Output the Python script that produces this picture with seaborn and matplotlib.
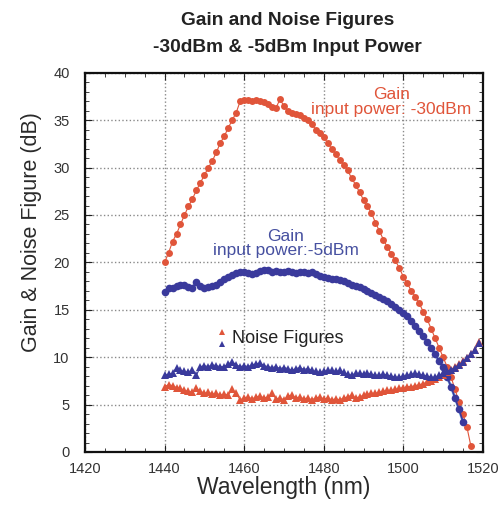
import numpy as np
import pandas as pd
import matplotlib
matplotlib.use("Agg")
import matplotlib.pyplot as plt
from matplotlib.ticker import MultipleLocator
import seaborn as sns

# values (1 nm steps)
wl_gain30 = list(range(1440, 1518))
gain_30dbm = [20.0, 21.0, 22.2, 23.0, 24.0, 25.0, 25.9, 26.7, 27.6, 28.4,
              29.2, 30.0, 30.7, 31.6, 32.6, 33.3, 34.2, 35.0, 35.8, 37.0,
              37.1, 37.1, 37.0, 37.1, 37.0, 36.9, 36.7, 36.4, 36.3, 37.2,
              36.5, 36.0, 35.8, 35.6, 35.5, 35.2, 35.0, 34.6, 34.0, 33.6,
              33.2, 32.6, 32.0, 31.4, 30.8, 30.3, 29.7, 28.9, 28.2, 27.4,
              26.6, 25.9, 25.2, 24.2, 23.3, 22.4, 21.6, 20.9, 20.2, 19.4,
              18.5, 17.8, 17.0, 16.4, 15.7, 14.8, 14.0, 13.0, 12.0, 11.0,
              10.0, 9.0, 7.9, 6.6, 5.3, 4.0, 2.6, 0.6]

wl_gain5 = list(range(1440, 1516))
gain_5dbm = [16.9, 17.3, 17.3, 17.5, 17.6, 17.6, 17.4, 17.3, 17.9, 17.5,
             17.3, 17.4, 17.5, 17.6, 17.9, 18.3, 18.5, 18.7, 18.9, 19.0,
             19.0, 18.9, 18.8, 18.9, 19.1, 19.2, 19.2, 19.0, 19.1, 19.0,
             19.0, 19.1, 19.0, 18.9, 19.0, 19.0, 18.9, 19.0, 18.8, 18.6,
             18.5, 18.4, 18.3, 18.2, 18.1, 18.0, 17.8, 17.6, 17.5, 17.4,
             17.2, 17.0, 16.8, 16.6, 16.4, 16.1, 15.9, 15.6, 15.3, 15.0,
             14.7, 14.3, 13.8, 13.3, 12.8, 12.2, 11.6, 11.0, 10.3, 9.6,
             9.0, 7.9, 6.9, 5.7, 4.5, 3.2]

wl_nf = list(range(1440, 1520))
nf_30dbm = [6.9, 7.1, 7.0, 6.8, 6.7, 6.5, 6.4, 6.3, 6.7, 6.4,
            6.2, 6.3, 6.1, 6.2, 6.0, 6.1, 6.0, 6.6, 6.2, 5.5,
            5.7, 5.8, 5.6, 5.8, 5.9, 5.7, 5.8, 6.2, 5.6, 5.7,
            5.5, 5.9, 6.0, 5.7, 5.8, 5.6, 5.7, 5.5, 5.7, 5.8,
            5.6, 5.7, 5.5, 5.6, 5.5, 5.7, 5.8, 6.0, 5.7, 5.8,
            6.0, 6.1, 6.2, 6.2, 6.3, 6.4, 6.5, 6.5, 6.6, 6.7,
            6.8, 6.9, 6.9, 7.0, 7.1, 7.2, 7.4, 7.5, 7.7, 7.9,
            8.1, 8.4, 8.7, 9.0, 9.3, 9.6, 9.9, 10.3, 10.8, 11.6]
nf_5dbm = [8.1, 8.2, 8.3, 8.9, 8.6, 8.5, 8.4, 8.7, 8.1, 9.0,
           9.1, 9.0, 9.2, 9.1, 9.0, 9.0, 9.3, 9.5, 9.2, 9.0,
           9.1, 9.0, 9.2, 9.3, 9.4, 9.1, 9.0, 8.9, 9.0, 8.8,
           8.9, 8.8, 8.6, 8.8, 8.9, 8.7, 8.8, 8.6, 8.5, 8.4,
           8.5, 8.6, 8.6, 8.5, 8.6, 8.4, 8.2, 8.1, 8.3, 8.3,
           8.2, 8.3, 8.2, 8.1, 8.1, 8.2, 8.1, 8.0, 7.9, 7.9,
           8.0, 8.1, 8.2, 8.3, 8.2, 8.1, 8.0, 7.9, 7.9, 8.1,
           8.3, 8.5, 8.7, 8.9, 9.2, 9.5, 9.9, 10.3, 10.8, 11.5]

red = "#e0553a"
blue = "#3a3a9c"

sns.set_style("ticks")
plt.rcParams['font.family'] = ['Liberation Sans', 'DejaVu Sans']

fig = plt.figure(figsize=(5.03, 5.09), dpi=100)
ax = fig.add_axes([0.169, 0.112, 0.791, 0.745])

ax.grid(True, which='major', linestyle=':', color='#8a8a8a', linewidth=1.0)

# gain curves
sns.lineplot(x=wl_gain30, y=gain_30dbm, ax=ax, color=red, linewidth=0.8,
             marker='o', markersize=5, markeredgewidth=0, zorder=3)
sns.lineplot(x=wl_gain5, y=gain_5dbm, ax=ax, color='#7fb4e6', linewidth=2.0, zorder=2)
sns.lineplot(x=wl_gain5, y=gain_5dbm, ax=ax, color=blue, linewidth=1.2,
             marker='o', markersize=5.5, markeredgewidth=0, zorder=3)

# noise figures
sns.lineplot(x=wl_nf, y=nf_30dbm, ax=ax, color=red, linewidth=0.8,
             marker='^', markersize=5.5, markeredgewidth=0, zorder=3)
sns.lineplot(x=wl_nf, y=nf_5dbm, ax=ax, color=blue, linewidth=0.8,
             marker='^', markersize=5.5, markeredgewidth=0, zorder=3)

ax.set_xlim(1420, 1520)
ax.set_ylim(0, 40)
ax.xaxis.set_major_locator(MultipleLocator(20))
ax.xaxis.set_minor_locator(MultipleLocator(5))
ax.yaxis.set_major_locator(MultipleLocator(5))
ax.yaxis.set_minor_locator(MultipleLocator(1))
ax.tick_params(which='both', direction='in', top=True, right=True, color='#222222')
ax.tick_params(which='major', length=5, labelsize=10.5, labelcolor='#333333')
ax.tick_params(axis='x', which='major', pad=7)
ax.tick_params(axis='y', which='major', pad=11)
ax.tick_params(which='minor', length=3)
for sp in ax.spines.values():
    sp.set_linewidth(1.6)
    sp.set_color('#111111')

ax.set_xlabel('Wavelength (nm)', fontsize=16.5, color='#2a2a2a', labelpad=0)
ax.set_ylabel('Gain & Noise Figure (dB)', fontsize=15.5, color='#2a2a2a')
ax.yaxis.set_label_coords(-0.108, 0.58)

# annotations
ax.text(1497.0, 36.9, 'Gain\ninput power: -30dBm', color=red, fontsize=12.5,
        ha='center', va='center', linespacing=0.95)
ax.text(1470.4, 22.0, 'Gain\ninput power:-5dBm', color='#4650a0', fontsize=12.5,
        ha='center', va='center', linespacing=0.95)
ax.plot([1454.5], [12.7], marker='^', color=red, markersize=5, markeredgewidth=0)
ax.plot([1454.5], [11.4], marker='^', color=blue, markersize=5, markeredgewidth=0)
ax.text(1457.0, 12.0, 'Noise Figures', color='#222222', fontsize=13, ha='left', va='center')

fig.text(0.571, 0.960, 'Gain and Noise Figures', ha='center', va='center',
         fontsize=13.8, fontweight='bold', color='#222222')
fig.text(0.571, 0.907, '-30dBm & -5dBm Input Power', ha='center', va='center',
         fontsize=13.8, fontweight='bold', color='#222222')

fig.savefig('out.png', dpi=100)
